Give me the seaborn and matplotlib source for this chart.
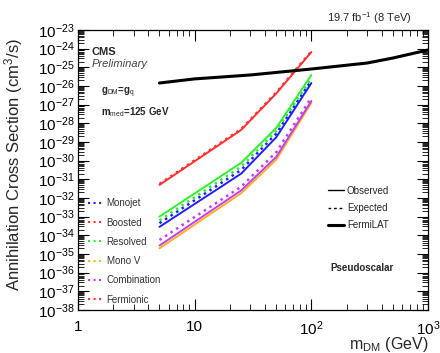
import numpy as np
import pandas as pd
import matplotlib
matplotlib.use("Agg")
import matplotlib.pyplot as plt
from matplotlib.lines import Line2D
from matplotlib.ticker import LogLocator, LogFormatterMathtext, NullFormatter, FixedLocator
import seaborn as sns

sns.set_theme(style="ticks")
plt.rcParams['font.family'] = ['Liberation Sans', 'DejaVu Sans']
plt.rcParams['mathtext.fontset'] = 'custom'
plt.rcParams['mathtext.rm'] = 'Liberation Sans'
plt.rcParams['mathtext.it'] = 'Liberation Sans:italic'
plt.rcParams['mathtext.bf'] = 'Liberation Sans:bold'

# ---- data (log10 of cross section, cm^3/s) ----
m_dm = [5, 25, 50, 100]
monojet_obs = [-33.55, -30.70, -28.75, -25.84]
monojet_exp = [-33.35, -30.50, -28.55, -25.70]
boosted_obs = [-31.30, -28.36, -26.40, -24.18]
boosted_exp = [-31.25, -28.31, -26.35, -24.14]
resolved_obs = [-33.00, -30.12, -28.25, -25.41]
resolved_exp = [-33.20, -30.32, -28.42, -25.58]
monov_obs = [-34.70, -31.75, -29.95, -26.90]
comb_obs = [-34.55, -31.60, -29.80, -26.80]
comb_exp = [-34.25, -31.40, -29.55, -26.62]

fermi_m = [5, 10, 30, 100, 300, 500, 1000]
fermi_sv = [-25.84, -25.62, -25.41, -25.09, -24.77, -24.50, -24.07]

y_exponents = list(range(-38, -22))
x_ticks = [1, 10, 100, 1000]
x_ticklabels = ["1", "10", r"$10^{2}$", r"$10^{3}$"]

legend_labels = ["Monojet", "Boosted", "Resolved", "Mono V", "Combination", "Fermionic"]
legend_colors = ["#2020ff", "#ff3030", "#30ee30", "#ffb020", "#c040f0", "#ff3030"]

series = [
    (monojet_obs, "#2020ff", "-"), (monojet_exp, "#2020ff", ":"),
    (boosted_obs, "#ff3030", "-"), (boosted_exp, "#ff3030", ":"),
    (resolved_obs, "#30ee30", "-"), (resolved_exp, "#30ee30", ":"),
    (monov_obs, "#ffb020", "-"),
    (comb_obs, "#c040f0", "-"), (comb_exp, "#c040f0", ":"),
]

fig = plt.figure(figsize=(4.4, 3.53), dpi=100)
ax = fig.add_axes([0.177, 0.122, 0.796, 0.793])

for vals, col, ls in series:
    df = pd.DataFrame({"m": m_dm, "sv": 10.0 ** np.array(vals)})
    sns.lineplot(data=df, x="m", y="sv", color=col, linestyle=ls,
                 linewidth=1.4 if ls == "-" else 1.8, ax=ax)

dff = pd.DataFrame({"m": fermi_m, "sv": 10.0 ** np.array(fermi_sv)})
sns.lineplot(data=dff, x="m", y="sv", color="black", linewidth=2.2, ax=ax)

ax.set_xscale("log")
ax.set_yscale("log")

ax.yaxis.set_major_locator(FixedLocator([10.0 ** e for e in y_exponents]))
ax.yaxis.set_minor_locator(LogLocator(base=10, subs=np.arange(2, 10), numticks=30))
ax.yaxis.set_major_formatter(LogFormatterMathtext())
ax.yaxis.set_minor_formatter(NullFormatter())
ax.xaxis.set_minor_locator(LogLocator(base=10, subs=np.arange(2, 10), numticks=10))
ax.xaxis.set_minor_formatter(NullFormatter())
ax.set_xticks(x_ticks)
ax.set_xticklabels(x_ticklabels)
ax.set_xlim(1, 1000)
ax.set_ylim(1e-38, 1e-23)

ax.tick_params(which="both", direction="in", top=True, right=True, colors="black")
ax.tick_params(which="major", length=8, width=0.8, labelsize=11)
ax.tick_params(which="minor", length=4, width=0.6)
ax.tick_params(axis="y", pad=2)
ax.tick_params(axis="x", pad=7)
for sp in ax.spines.values():
    sp.set_color("black")
    sp.set_linewidth(0.9)

ax.set_xlabel(r"m$_{\mathrm{DM}}$ (GeV)", fontsize=11.5, loc="right")
ax.xaxis.set_label_coords(1.0, -0.088)
ax.set_ylabel(r"Annihilation Cross Section (cm$^{3}$/s)", fontsize=12, loc="top")
ax.yaxis.set_label_coords(-0.15, 0.972)

fig.text(0.935, 0.948, r"19.7 fb$^{-1}$ (8 TeV)", ha="right", va="center", fontsize=8)
ax.text(0.04, 0.94, "CMS", transform=ax.transAxes, fontsize=8, fontweight="bold", va="top")
ax.text(0.04, 0.895, "Preliminary", transform=ax.transAxes, fontsize=8, style="italic",
        color="#444444", va="top")
ax.text(0.065, 0.80, r"g$_{\mathrm{DM}}$=g$_{\mathrm{q}}$", transform=ax.transAxes,
        fontsize=7, fontweight="bold", va="top")
ax.text(0.065, 0.73, r"m$_{\mathrm{med}}$=125 GeV", transform=ax.transAxes,
        fontsize=7, fontweight="bold", va="top")
ax.text(0.72, 0.15, "Pseudoscalar", transform=ax.transAxes, fontsize=7,
        fontweight="bold", va="center")

h1 = [Line2D([], [], color=c, linestyle=":", linewidth=1.5) for c in legend_colors]
leg1 = ax.legend(h1, legend_labels, loc="lower left", bbox_to_anchor=(0.01, -0.005),
                 frameon=False, fontsize=7, handlelength=1.6, handletextpad=0.3,
                 labelspacing=0.95, borderaxespad=0.3)
for t in leg1.get_texts():
    t.set_color("#333333")
ax.add_artist(leg1)

h2 = [Line2D([], [], color="black", linestyle="-", linewidth=1.0),
      Line2D([], [], color="black", linestyle=(0, (2, 2)), linewidth=1.0),
      Line2D([], [], color="black", linestyle="-", linewidth=2.2)]
leg2 = ax.legend(h2, ["Observed", "Expected", "FermiLAT"], loc="upper left",
                 bbox_to_anchor=(0.69, 0.475), frameon=False, fontsize=7,
                 handlelength=1.6, handletextpad=0.3, labelspacing=0.75)

fig.savefig("out.png", dpi=100)
